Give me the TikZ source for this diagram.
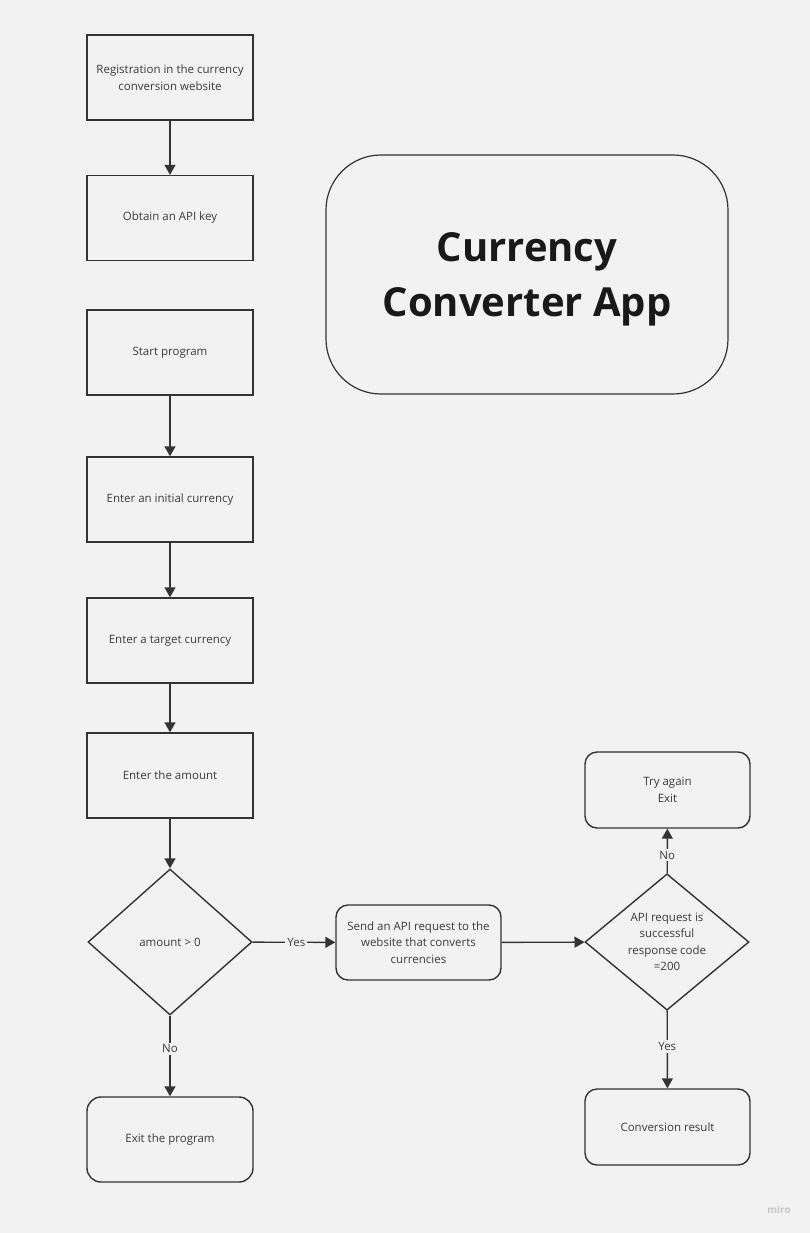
\documentclass[tikz,border=0pt]{standalone}
\usepackage{fontspec}
\setmainfont{Open Sans}
\usetikzlibrary{shapes.geometric, arrows.meta}

\definecolor{paper}{HTML}{F2F2F2}
\definecolor{ink}{HTML}{333333}
\definecolor{wording}{HTML}{3A3A3A}

\tikzset{
  stepbox/.style = {draw = ink, line width = 1.4pt, minimum width = 166, minimum height = 85,
    align = center, text = wording, font = \fontsize{11.5}{16.5}\selectfont},
  roundbox/.style = {stepbox, rounded corners = 12pt, minimum height = 76},
  decision/.style = {stepbox, diamond, inner sep = 0pt},
  flow/.style = {draw = ink, line width = 1.4pt, ->},
  tag/.style = {fill = paper, text = wording, inner sep = 2pt, font = \fontsize{11.5}{12}\selectfont}
}

\begin{document}
\begin{tikzpicture}[x = 1pt, y = -1pt, >={Triangle[length = 10pt, width = 11pt]}]
\useasboundingbox [fill = paper] (0,0) rectangle (810,1233);

% left column
\node [stepbox] (register) at (170, 77.5) {Registration in the currency\\conversion website};
\node [stepbox] (apikey) at (170, 218) {Obtain an API key};
\node [stepbox] (start) at (170, 352.5) {Start program};
\node [stepbox] (initial) at (170, 499.5) {Enter an initial currency};
\node [stepbox] (target) at (170, 640.5) {Enter a target currency};
\node [stepbox] (amount) at (170, 775.5) {Enter the amount};
\node [decision, minimum width = 164, minimum height = 146] (positive) at (170, 942) {amount > 0};
\node [roundbox, rounded corners = 14pt, minimum height = 85] (exit) at (170, 1139.5) {Exit the program};

% right part
\node [roundbox, minimum width = 165, minimum height = 75] (request) at (418.5, 942.5) {Send an API request to the\\website that converts\\currencies};
\node [decision, minimum width = 164, minimum height = 130] (success) at (667, 942) {API request is\\successful\\response code\\=200};
\node [roundbox, minimum width = 165] (retry) at (667.5, 790) {Try again\\Exit};
\node [roundbox, minimum width = 165] (result) at (667.5, 1127) {Conversion result};

% title
\node [draw = ink, line width = 1.2pt, rounded corners = 55pt, minimum width = 402, minimum height = 239] (frame) at (527, 274.5) {};
\node [align = center, text = black!90, font = \fontsize{40}{55}\selectfont\bfseries] (title) at (527, 279.5)
  {Currency\\Converter App};

\draw [flow] (register) -- (apikey);
\draw [flow] (start) -- (initial);
\draw [flow] (initial) -- (target);
\draw [flow] (target) -- (amount);
\draw [flow] (amount) -- (positive);
\draw [flow] (positive) -- node [tag, pos = 0.41] {No} (exit);
\draw [flow] (positive) -- node [tag, pos = 0.53] {Yes} (request);
\draw [flow] (request) -- (success);
\draw [flow] (success) -- node [tag, pos = 0.41] {No} (retry);
\draw [flow] (success) -- node [tag, pos = 0.46] {Yes} (result);

\node [text = black!22, font = \fontsize{10}{12}\selectfont\bfseries] (brand) at (779, 1210) {miro};

\end{tikzpicture}
\end{document}
